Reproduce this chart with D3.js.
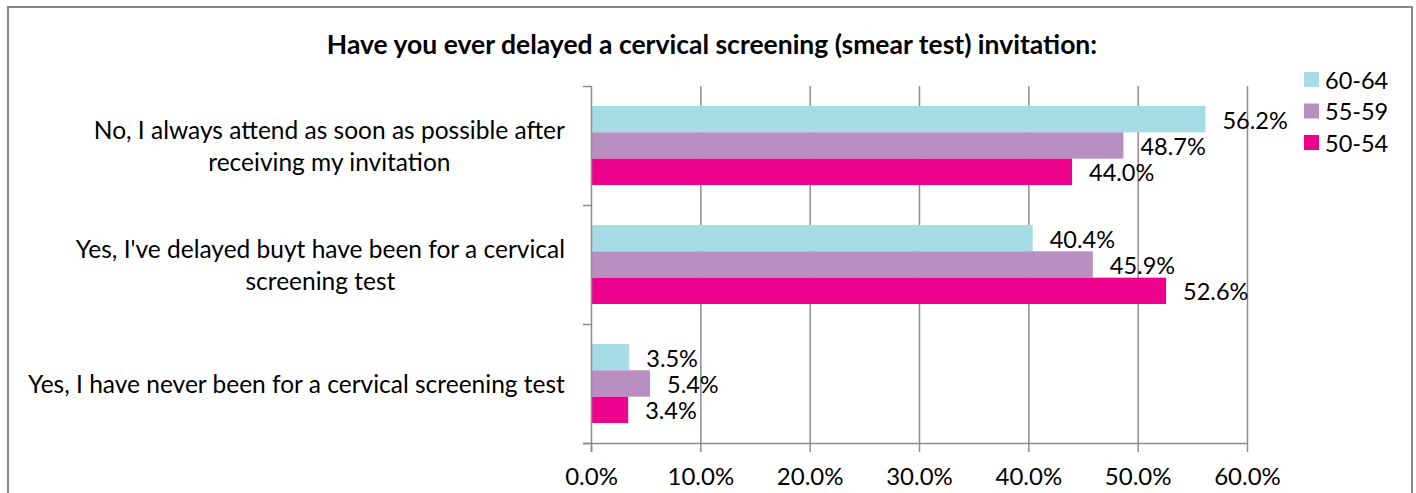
<!DOCTYPE html>
<meta charset="utf-8">
<script src="https://cdn.jsdelivr.net/npm/d3@7"></script>
<style>
body { margin: 0; background: #fff; }
text { font-family: Lato, "Open Sans", sans-serif; fill: #000; }
.grid line { stroke: #8c8c8c; stroke-width: 1.5px; }
.grid path { display: none; }
.axis path, .axis line { stroke: #8c8c8c; stroke-width: 1.5px; }
</style>
<body>
<script>
// data
var categories = [
  ["No, I always attend as soon as possible after", "receiving my invitation"],
  ["Yes, I've delayed buyt have been for a cervical", "screening test"],
  ["Yes, I have never been for a cervical screening test"]
];
var seriesNames = ["60-64", "55-59", "50-54"];
var seriesColors = ["#a5dce6", "#b98fc1", "#ec008c"];
var values6064 = [56.2, 40.4, 3.5];
var values5559 = [48.7, 45.9, 5.4];
var values5054 = [44.0, 52.6, 3.4];
var xTicks = [0, 10, 20, 30, 40, 50, 60];

var series = [values6064, values5559, values5054];

var W = 1416, H = 493;
var plot = {left: 591, right: 1247, top: 86, bottom: 443};

var svg = d3.select("body").append("svg")
    .attr("width", W)
    .attr("height", H);

// chart border (bottom edge runs off the picture)
svg.append("rect")
    .attr("x", 8).attr("y", 7)
    .attr("width", 1404).attr("height", 500)
    .attr("fill", "none")
    .attr("stroke", "#888")
    .attr("stroke-width", 2);

// title
svg.append("text")
    .attr("x", 712).attr("y", 54)
    .attr("text-anchor", "middle")
    .style("font-size", "26.5px")
    .style("font-weight", "bold")
    .text("Have you ever delayed a cervical screening (smear test) invitation:");

// scales
var x = d3.scaleLinear().domain([0, 60]).range([plot.left, plot.right]);
var y = d3.scaleBand()
    .domain(d3.range(categories.length))
    .range([plot.top, plot.bottom])
    .paddingInner(0.336)
    .paddingOuter(0.168);
var ySub = d3.scaleBand()
    .domain(d3.range(seriesNames.length))
    .range([0, y.bandwidth()]);
var yEdge = d3.scaleLinear().domain([0, categories.length]).range([plot.top, plot.bottom]);

// gridlines
svg.append("g")
    .attr("class", "grid")
    .attr("transform", "translate(0," + plot.bottom + ")")
    .call(d3.axisBottom(x).tickValues(xTicks.slice(1)).tickSize(-(plot.bottom - plot.top)).tickFormat(""));

// bars
series.forEach(function(vals, s) {
  svg.append("g").selectAll("rect")
      .data(vals)
    .enter().append("rect")
      .attr("x", x(0))
      .attr("y", function(d, i) { return y(i) + ySub(s); })
      .attr("width", function(d) { return x(d) - x(0); })
      .attr("height", ySub.bandwidth())
      .attr("fill", seriesColors[s]);

  svg.append("g").selectAll("text")
      .data(vals)
    .enter().append("text")
      .attr("x", function(d) { return x(d) + 17; })
      .attr("y", function(d, i) { return y(i) + ySub(s) + ySub.bandwidth() / 2; })
      .attr("dy", "0.4em")
      .style("font-size", "23.5px")
      .text(function(d) { return d.toFixed(1) + "%"; });
});

// x axis
svg.append("g")
    .attr("class", "axis")
    .attr("transform", "translate(0," + plot.bottom + ")")
    .call(d3.axisBottom(x).tickValues(xTicks).tickSize(9).tickSizeOuter(0)
      .tickFormat(function(d) { return d.toFixed(1) + "%"; }))
    .call(function(g) {
      g.select(".domain").attr("d", "M" + (plot.left - 8) + ",0.5H" + plot.right);
      g.selectAll("text").attr("y", 25).style("font-size", "24px").attr("fill", "#000");
    });

// y axis (ticks on category boundaries)
svg.append("g")
    .attr("class", "axis")
    .attr("transform", "translate(" + plot.left + ",0)")
    .call(d3.axisLeft(yEdge).ticks(categories.length).tickSize(8).tickSizeOuter(0).tickFormat(""))
    .call(function(g) {
      g.select(".domain").attr("d", "M0.5," + plot.top + "V" + (plot.bottom + 9));
    });

// category labels
var lineH = 32;
categories.forEach(function(lines, i) {
  var cy = y(i) + y.bandwidth() / 2;
  var t = svg.append("text")
      .attr("text-anchor", "middle")
      .style("font-size", "24.5px");
  lines.forEach(function(l, j) {
    t.append("tspan")
        .attr("x", 0)
        .attr("y", cy + (j - (lines.length - 1) / 2) * lineH)
        .attr("dy", "0.38em")
        .text(l);
  });
  // right-align the block, lines centred on each other
  var w = t.node().getBBox().width;
  t.selectAll("tspan").attr("x", 565 - w / 2);
});

// legend
var legend = svg.append("g").selectAll("g")
    .data(seriesNames)
  .enter().append("g")
    .attr("transform", function(d, i) { return "translate(1304," + (72 + i * 31.5) + ")"; });
legend.append("rect")
    .attr("width", 15).attr("height", 15)
    .attr("fill", function(d, i) { return seriesColors[i]; });
legend.append("text")
    .attr("x", 21).attr("y", 7.5)
    .attr("dy", "0.4em")
    .style("font-size", "23.5px")
    .text(function(d) { return d; });
</script>
</body>
